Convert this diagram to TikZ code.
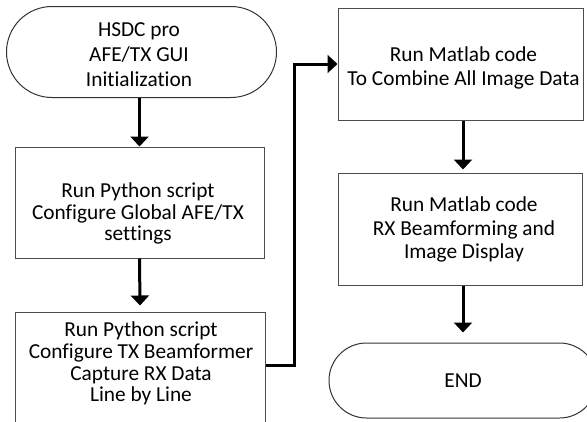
\documentclass[tikz,border=0pt]{standalone}
\usepackage{fontspec}
\setmainfont{Carlito}[Ligatures=NoCommon]
\usetikzlibrary{arrows.meta,shapes.misc}
\newcommand\mlines[1]{\vtop{\halign{\hfil##\hfil\cr#1\crcr}}}
\begin{document}
\begin{tikzpicture}[x=0.75pt,y=0.75pt,
  procbox/.style={draw=black!70, line width=0.75pt, rectangle, inner sep=0pt},
  termbox/.style={draw=black!80, line width=0.75pt, rounded rectangle, inner sep=0pt},
  txt/.style={anchor=base, inner sep=0pt, font=\fontsize{16pt}{#1}\selectfont},
  txt/.default=18pt,
  flow/.style={line width=2.25pt, line join=miter, -{Triangle[length=7.5pt,width=13.5pt]}},
]
\useasboundingbox (0,0) rectangle (587,-422);
\clip (0,0) rectangle (587,-422);

% shapes
\node[termbox, minimum width=270*0.75pt, minimum height=91*0.75pt] (b1) at (141.5,-52) {};
\node[procbox, minimum width=249*0.75pt, minimum height=111*0.75pt] (b2) at (139.5,-202.5) {};
\node[procbox, minimum width=250*0.75pt, minimum height=112*0.75pt] (b3) at (140,-368) {};
\node[procbox, minimum width=245*0.75pt, minimum height=112*0.75pt] (b4) at (460.5,-64) {};
\node[procbox, minimum width=244*0.75pt, minimum height=112*0.75pt] (b5) at (460,-229) {};
\node[termbox, minimum width=268*0.75pt, minimum height=75*0.75pt, font=\fontsize{16pt}{18pt}\selectfont] (e) at (463,-380.5) {END};

% texts
\node[txt=18.75pt] (t1) at (139,-36) {\mlines{HSDC pro\cr AFE/TX GUI\cr Initialization}};
\node[txt=16pt] (t2) at (138,-197.7) {\mlines{Run Python script\cr Configure Global AFE/TX\cr settings}};
\node[txt=16.3pt] (t3) at (141,-336.7) {\mlines{Run Python script\cr Configure TX Beamformer\cr Capture RX Data\cr Line by Line}};
\node[txt=17.5pt] (t4) at (463.5,-61.7) {\mlines{Run Matlab code\cr To Combine All Image Data}};
\node[txt=17.6pt] (t5) at (464,-211.7) {\mlines{Run Matlab code\cr RX Beamforming and\cr Image Display}};

% connectors
\draw[flow] (b2.north |- b1.south) -- (b2.north);
\draw[flow] (b2.south) -- ([yshift=4.5pt]b3.north);
\coordinate (k) at (294,-64);
\draw[flow] ([yshift=2.25pt]b3.east) -| (k) -- (b4.west);
\draw[flow] (b4.south -| e.north) -- ([yshift=2.25pt]b5.north -| e.north);
\draw[flow] (b5.south -| e.north) -- ([yshift=7.5pt]e.north);
\end{tikzpicture}
\end{document}
